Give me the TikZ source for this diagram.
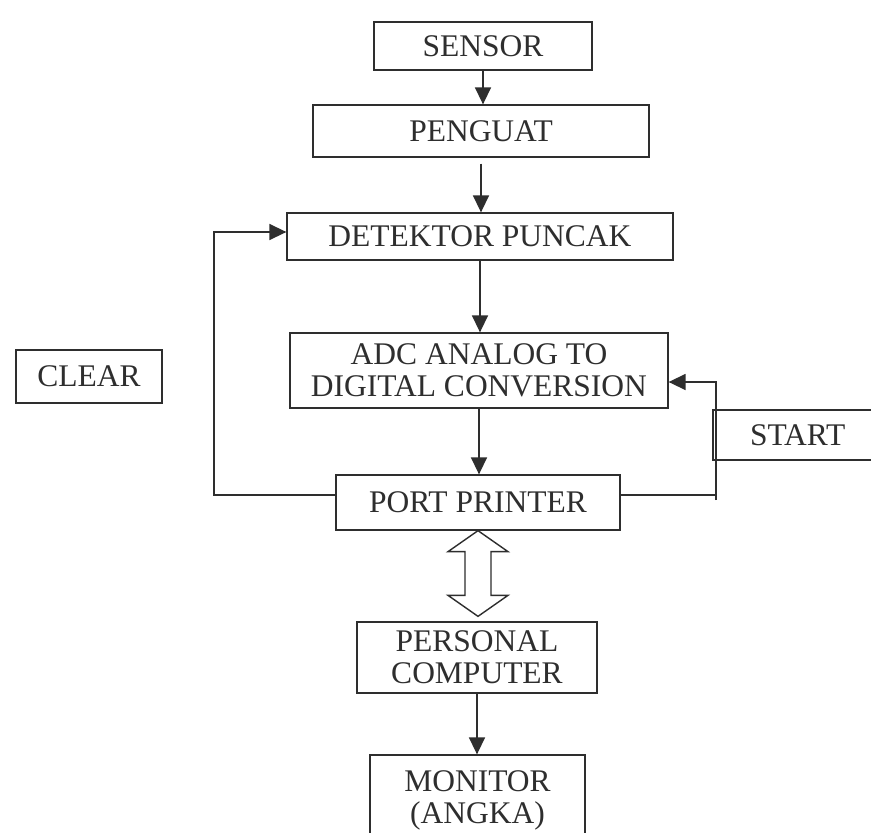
\documentclass[tikz,border=0pt]{standalone}
\usepackage{fontspec}
\setmainfont{Liberation Serif}
\usetikzlibrary{arrows.meta,calc}
\definecolor{ink}{HTML}{2E2E2E}
\begin{document}
\begin{tikzpicture}[x=1pt,y=-1pt,
  box/.style={draw=ink,line width=1.3pt,inner sep=0pt,align=center,text=ink,
    font=\fontsize{31.5}{32}\selectfont},
  conn/.style={draw=ink,line width=1.5pt},
  arr/.style={conn,-{Triangle[width=16pt,length=17pt]}}]
\useasboundingbox[fill=white] (0,0) rectangle (871,833);
\node[box,minimum width=218,minimum height=48] (sensor) at (483,46) {SENSOR};
\node[box,minimum width=336,minimum height=52] (penguat) at (481,131) {PENGUAT};
\node[box,minimum width=386,minimum height=47] (detektor) at (480,236.5) {DETEKTOR PUNCAK};
\node[box,minimum width=378,minimum height=75] (adc) at (479,370.5) {ADC ANALOG TO\\DIGITAL CONVERSION};
\node[box,minimum width=146,minimum height=53] (clear) at (89,376.5) {CLEAR};
\node[box,minimum width=164,minimum height=50,text width=158,align=left] (start) at (795,435) {\hspace*{34pt}START};
\node[box,minimum width=284,minimum height=55] (port) at (478,502.5) {PORT PRINTER};
\node[box,minimum width=240,minimum height=71] (pc) at (477,657.5) {PERSONAL\\COMPUTER};
\node[box,minimum width=215,minimum height=90] (monitor) at (477.5,800) {MONITOR\\(ANGKA)};
% vertical flow
\draw[arr] (sensor.south) -- (sensor.south |- penguat.north);
\draw[arr,shorten <=6pt] (penguat.south) -- (penguat.south |- detektor.north);
\draw[arr] (detektor.south) -- (detektor.south |- adc.north);
\draw[arr] (adc.south) -- (adc.south |- port.north);
\draw[arr] (pc.south) -- (pc.south |- monitor.north);
% feedback to detektor (CLEAR line)
\coordinate (fbL) at (214,495);
\coordinate (fbT) at (214,232);
\draw[arr] (port.west |- fbL) -- (fbL) -- (fbT) -- (detektor.west |- fbT);
% START line to ADC
\coordinate (stB) at (716,500);
\coordinate (stR) at (716,495);
\coordinate (stT) at (716,382);
\draw[conn] (port.east |- stR) -- (stR);
\draw[arr] (stB) -- (stT) -- (adc.east |- stT);
% hollow double arrow
\coordinate (ht) at (port.south);
\coordinate (hb) at ($(ht |- pc.north)+(0,-5)$);
\draw[draw=ink,line width=1.4pt,fill=white,line join=miter]
  (ht) -- ($(ht)+(30,21)$) -- ($(ht)+(13,21)$) -- ($(hb)+(13,-21)$) -- ($(hb)+(30,-21)$)
  -- (hb) -- ($(hb)+(-30,-21)$) -- ($(hb)+(-13,-21)$) -- ($(ht)+(-13,21)$) -- ($(ht)+(-30,21)$) -- cycle;
\end{tikzpicture}
\end{document}
